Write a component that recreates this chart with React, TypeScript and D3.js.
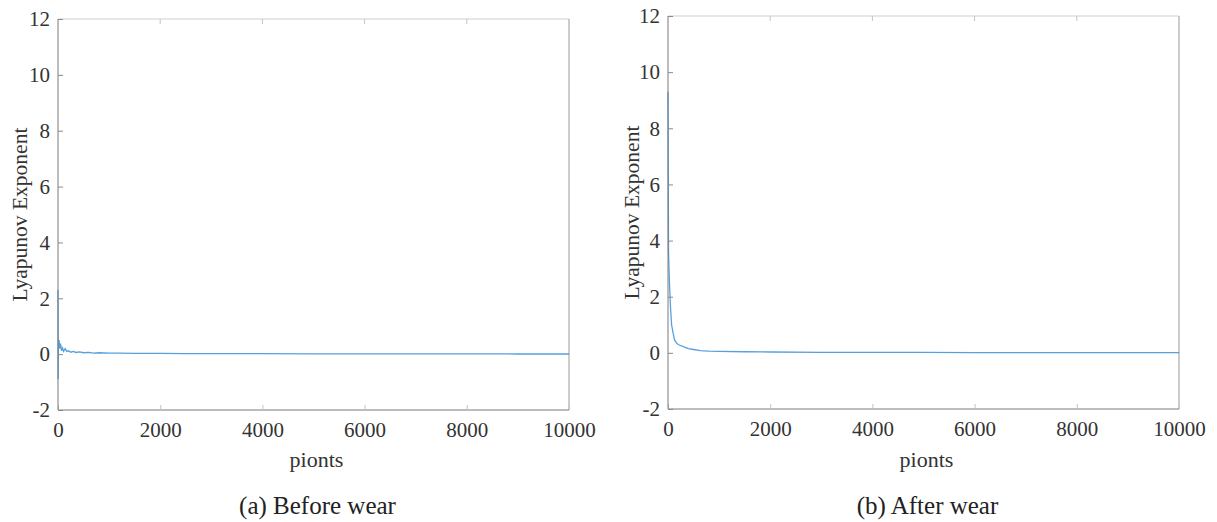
import { useRef, useEffect } from 'react';
import * as d3 from 'd3';

// values (x = points, y = exponent)
const beforeX = [0, 3, 8, 20, 35, 50, 70, 90, 110, 140, 170, 200, 250, 300, 350, 420, 500, 600, 700, 800, 1000, 1200, 1500, 2000, 2500, 3000, 4000, 5000, 6000, 7000, 8000, 9000, 10000];
const beforeY = [2.3, -0.9, 0.3, 0.5, 0.2, 0.38, 0.12, 0.22, 0.1, 0.2, 0.1, 0.12, 0.07, 0.1, 0.06, 0.08, 0.05, 0.06, 0.04, 0.05, 0.04, 0.04, 0.03, 0.03, 0.02, 0.02, 0.015, 0.01, 0.01, 0.008, 0.01, 0.006, 0.005];

const afterX = [0, 10, 30, 50, 70, 100, 130, 175, 220, 300, 400, 500, 630, 800, 1000, 1500, 2000, 3000, 4000, 5000, 6000, 7000, 8000, 9000, 10000];
const afterY = [9.3, 3.6, 2.4, 1.6, 1.0, 0.7, 0.45, 0.33, 0.28, 0.22, 0.15, 0.12, 0.08, 0.06, 0.05, 0.04, 0.03, 0.02, 0.02, 0.015, 0.01, 0.01, 0.01, 0.008, 0.008];

const xTicks = [0, 2000, 4000, 6000, 8000, 10000];
const yTicks = [-2, 0, 2, 4, 6, 8, 10, 12];

const panels = [
  { xs: beforeX, ys: beforeY, left: 58, right: 569, top: 19, bottom: 410, caption: '(a) Before wear', labelX: 20 },
  { xs: afterX, ys: afterY, left: 668, right: 1179, top: 16, bottom: 409, caption: '(b) After wear', labelX: 632 },
];

const font = 'Liberation Serif, DejaVu Serif, serif';

export default function App() {
  const svgRef = useRef(null);

  useEffect(() => {
    const svg = d3.select(svgRef.current);
    svg.selectAll('*').remove();

    panels.forEach(p => {
      const x = d3.scaleLinear().domain([0, 10000]).range([p.left, p.right]);
      const y = d3.scaleLinear().domain([-2, 12]).range([p.bottom, p.top]);
      const g = svg.append('g').style('font-family', font);

      // box: top/right lighter
      g.append('line').attr('x1', p.left).attr('x2', p.right).attr('y1', p.top).attr('y2', p.top).attr('stroke', '#cfcfcf');
      g.append('line').attr('x1', p.right).attr('x2', p.right).attr('y1', p.top).attr('y2', p.bottom).attr('stroke', '#9a9a9a');

      // the curve
      const pts = p.xs.map((v, i) => [v, p.ys[i]]);
      g.append('path')
        .datum(pts)
        .attr('d', d3.line().x(d => x(d[0])).y(d => y(d[1])))
        .attr('fill', 'none')
        .attr('stroke', '#3a8fd8')
        .attr('stroke-width', 1.3)
        .attr('opacity', 0.85);

      // bottom axis
      const xa = g.append('g').attr('transform', `translate(0,${p.bottom})`)
        .call(d3.axisBottom(x).tickValues(xTicks).tickSize(-5).tickPadding(12).tickFormat(d => String(d)));
      xa.attr('font-family', null);
      xa.select('.domain').attr('stroke', '#7a7a7a').attr('d', `M${p.left},0H${p.right}`);
      xa.selectAll('.tick line').attr('stroke', '#c4c4c4');
      xa.selectAll('text').style('font-family', font).attr('font-size', 21).attr('fill', '#333');

      // top ticks
      xTicks.slice(1, -1).forEach(t => {
        g.append('line').attr('x1', x(t)).attr('x2', x(t)).attr('y1', p.top).attr('y2', p.top + 5).attr('stroke', '#c4c4c4');
      });

      // left axis
      const ya = g.append('g').attr('transform', `translate(${p.left},0)`)
        .call(d3.axisLeft(y).tickValues(yTicks).tickSize(-5).tickPadding(8).tickFormat(d => String(d)));
      ya.attr('font-family', null);
      ya.select('.domain').attr('stroke', '#7a7a7a').attr('d', `M0,${p.top}V${p.bottom}`);
      ya.selectAll('.tick line').attr('stroke', '#8a8a8a');
      ya.selectAll('text').style('font-family', font).attr('font-size', 21).attr('fill', '#333');

      const cx = (p.left + p.right) / 2;
      g.append('text').attr('x', cx + 3).attr('y', 467).attr('text-anchor', 'middle')
        .style('font-family', font).attr('font-size', 22).attr('fill', '#333').text('pionts');
      g.append('text').attr('x', cx + 4).attr('y', 514).attr('text-anchor', 'middle')
        .style('font-family', font).attr('font-size', 25).attr('fill', '#222').text(p.caption);
      g.append('text')
        .attr('transform', `translate(${p.labelX + 7},${(p.top + p.bottom) / 2}) rotate(-90)`)
        .attr('text-anchor', 'middle')
        .style('font-family', font).attr('font-size', 21.5).attr('fill', '#333').text('Lyapunov Exponent');
    });
  }, []);

  return (
    <svg ref={svgRef} width={1217} height={522}
      style={{ position: 'absolute', left: 0, top: 0, background: '#fff' }} />
  );
}
